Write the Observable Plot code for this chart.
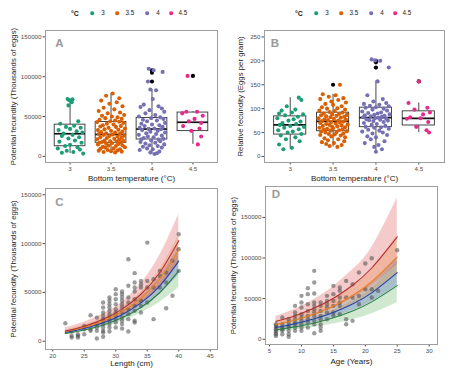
<!DOCTYPE html>
<html>
<head>
<meta charset="utf-8">
<script src="https://cdn.jsdelivr.net/npm/d3@7"></script>
<script src="https://cdn.jsdelivr.net/npm/@observablehq/plot@0.6"></script>
<style>
  html, body { margin: 0; padding: 0; background: #fff; }
  #fig { position: relative; width: 450px; height: 374px; overflow: hidden; background: #fff;
         font-family: "Liberation Sans", Arial, Helvetica, sans-serif; color: #222; }
  #fig svg { position: absolute; }
  .lg { position: absolute; transform: translate(-50%, -50%); white-space: nowrap; line-height: 1; }
  .lg-title { font-size: 7px; font-weight: bold; color: #222; }
  .lg-label { font-size: 6.3px; color: #222; }
  .lg-dot { width: 3.6px; height: 3.6px; border-radius: 50%; }
</style>
</head>
<body>
<div id="fig"></div>
<script>
// ---------- shared categories ----------
const temps = [3, 3.5, 4, 4.5];
const tempLabels = ["3", "3.5", "4", "4.5"];
const tempColors = ["#1b9e77", "#d95f02", "#7570b3", "#e7298a"];

// ---------- A: potential fecundity by bottom temperature, [jitter offset, eggs] ----------
const potA_3 = [[-0.03,72000],[0.03,71500],[-0.01,70500],[0.02,68000],[-0.02,64000],[0.1,44000],[-0.12,41000],[0.05,38500],[-0.05,37000],[0.13,36000],[0.0,34500],[-0.14,33000],[0.08,31500],[0.15,30000],[-0.08,28500],[0.03,27000],[-0.1,25500],[0.11,24000],[-0.02,22500],[0.06,20000],[-0.13,18500],[0.14,17000],[0.0,14500],[-0.06,13000],[0.09,11500],[-0.15,10000],[0.12,8500],[-0.04,7000],[0.04,5500],[-0.1,4500],[0.16,3500]];
const potA_35 = [[0.02,79000],[-0.06,76000],[0.1,73000],[-0.12,70000],[0.07,68000],[-0.02,66000],[0.14,63000],[-0.09,61000],[0.04,59000],[-0.15,57000],[0.11,55000],[-0.04,54000],[0.16,52000],[-0.11,51000],[0.01,50000],[0.08,49000],[-0.07,48000],[0.13,47000],[-0.14,46000],[0.05,45000],[-0.01,44000],[0.1,43500],[-0.17,43000],[0.15,42000],[-0.05,41000],[0.03,40000],[-0.1,39000],[0.12,38000],[-0.13,37500],[0.06,37000],[-0.03,36000],[0.17,35000],[-0.08,34000],[0.09,33500],[-0.16,33000],[0.0,32000],[0.14,31000],[-0.12,30500],[0.05,30000],[-0.06,29000],[0.11,28500],[-0.15,28000],[0.02,27500],[-0.09,27000],[0.16,26000],[-0.02,25500],[0.08,25000],[-0.13,24000],[0.13,23500],[-0.05,23000],[0.04,22000],[-0.17,21500],[0.1,21000],[-0.08,20000],[0.15,19500],[-0.01,19000],[0.07,18500],[-0.11,18000],[0.12,17500],[-0.14,17000],[0.01,16500],[-0.06,16000],[0.09,15500],[-0.16,15000],[0.14,14000],[-0.03,13500],[0.06,13000],[-0.1,12000],[0.17,11500],[-0.07,11000],[0.03,10000],[-0.13,9500],[0.11,9000],[-0.04,8000],[0.08,7500],[-0.15,7000],[0.0,6500],[0.13,6000],[-0.09,5500],[0.05,5000]];
const potA_4 = [[-0.04,110000],[0.02,108000],[0.13,106000],[-0.05,94000],[-0.02,84000],[0.05,83000],[0.01,72000],[-0.1,65000],[0.08,63000],[-0.14,62000],[0.12,60000],[-0.03,58000],[0.15,56000],[-0.08,54000],[0.04,52000],[-0.16,50000],[0.1,49000],[-0.01,48000],[0.14,47000],[-0.11,46000],[0.06,45000],[-0.06,44000],[0.16,42000],[-0.13,41000],[0.0,40000],[0.09,39000],[-0.09,38000],[0.13,37000],[-0.15,36000],[0.03,35000],[-0.04,34500],[0.11,34000],[-0.12,33000],[0.07,32000],[-0.02,31000],[0.16,30000],[-0.07,29000],[0.05,28000],[-0.16,27000],[0.12,26000],[-0.05,25000],[0.02,24000],[-0.1,23000],[0.14,22000],[-0.13,21500],[0.08,21000],[-0.01,20000],[0.1,19000],[-0.14,18000],[0.04,17000],[-0.08,16000],[0.15,15000],[-0.03,14000],[0.07,13000],[-0.11,12000],[0.12,11000],[-0.06,10000],[0.01,9000],[-0.15,8000],[0.09,6000],[-0.02,5000],[0.06,4000],[0.03,3000]];
const potA_45 = [[-0.065,101000],[-0.08,56000],[0.05,56000],[-0.13,54000],[0.12,51000],[0.02,47000],[-0.05,44000],[0.1,42000],[-0.12,38000],[0.08,35000],[-0.02,32000],[0.1,25000],[0.06,15000]];
// A box summaries per temperature (whisker low, Q1, median, Q3, whisker high)
const boxA_lo  = [3500, 5000, 3000, 15000];
const boxA_q1  = [12700, 17000, 21200, 31700];
const boxA_med = [28400, 27500, 34300, 42800];
const boxA_q3  = [39800, 43100, 48200, 55000];
const boxA_hi  = [72000, 79000, 84000, 56000];
const outA_t = [4, 4, 4, 4.5];
const outA_v = [108000, 105000, 94000, 101000];

// ---------- B: relative fecundity (eggs per gram), [jitter offset, eggs/g] ----------
const relB_3 = [[0.1,123],[0.13,118],[-0.04,105],[0.06,98],[-0.1,96],[0.02,92],[-0.13,90],[0.15,88],[-0.06,86],[0.09,83],[-0.15,80],[0.04,78],[-0.02,75],[0.12,73],[-0.09,70],[0.07,68],[-0.12,66],[0.0,64],[0.16,62],[-0.07,60],[0.1,57],[-0.14,55],[0.03,52],[-0.03,50],[0.13,47],[-0.11,44],[0.06,40],[-0.05,36],[0.11,32],[-0.13,25],[0.02,18],[-0.08,15]];
const relB_35 = [[0.08,150],[-0.12,130],[0.03,128],[-0.05,125],[0.12,122],[-0.15,120],[0.06,118],[-0.02,115],[0.15,113],[-0.09,110],[0.0,108],[0.1,105],[-0.13,103],[0.05,101],[-0.07,100],[0.14,98],[-0.16,96],[0.02,95],[-0.04,93],[0.11,92],[-0.11,90],[0.07,89],[-0.01,88],[0.16,87],[-0.14,86],[0.04,85],[-0.08,84],[0.13,83],[-0.03,82],[0.09,81],[-0.17,80],[0.01,79],[-0.1,78],[0.15,77],[-0.06,76],[0.06,75],[-0.13,74],[0.12,73],[-0.02,72],[0.08,71],[-0.15,70],[0.03,69],[-0.08,68],[0.17,67],[-0.04,66],[0.1,65],[-0.12,64],[0.05,63],[-0.01,62],[0.14,61],[-0.16,60],[0.0,59],[-0.07,58],[0.11,57],[-0.11,56],[0.07,55],[-0.03,54],[0.16,53],[-0.14,52],[0.04,51],[-0.09,50],[0.12,48],[-0.05,47],[0.02,46],[-0.15,45],[0.09,44],[-0.02,42],[0.14,40],[-0.1,38],[0.06,36],[-0.06,34],[0.13,32],[-0.13,30],[0.01,28],[-0.08,26],[0.1,24],[-0.04,22],[0.05,20]];
const relB_4 = [[-0.05,203],[-0.01,201],[0.05,200],[0.15,186],[0.02,157],[-0.1,128],[0.08,120],[-0.03,115],[0.12,112],[-0.14,110],[0.04,108],[-0.07,106],[0.15,105],[0.0,103],[-0.12,102],[0.09,100],[-0.04,98],[0.13,96],[-0.16,94],[0.06,92],[-0.09,91],[0.02,90],[0.16,88],[-0.02,87],[-0.13,86],[0.1,85],[-0.06,84],[0.07,83],[-0.15,82],[0.03,81],[-0.01,80],[0.12,79],[-0.11,78],[0.05,77],[-0.08,76],[0.14,75],[-0.03,74],[0.09,72],[-0.14,70],[0.01,68],[-0.05,66],[0.11,64],[-0.12,62],[0.06,61],[-0.02,60],[0.15,58],[-0.09,56],[0.04,54],[-0.16,52],[0.08,50],[-0.04,48],[0.13,45],[-0.1,42],[0.0,40],[-0.06,36],[0.1,32],[-0.13,28],[0.03,24],[-0.02,20],[0.07,15],[0.0,10]];
const relB_45 = [[0.0,157],[-0.12,112],[0.1,102],[-0.05,98],[0.13,92],[0.05,88],[-0.1,82],[0.02,80],[-0.14,79],[0.11,72],[-0.03,62],[0.09,55],[0.12,50]];
const boxB_lo  = [15, 20, 10, 50];
const boxB_q1  = [45.8, 52.8, 61.3, 64.8];
const boxB_med = [66.3, 73.3, 81.1, 79.6];
const boxB_q3  = [83.9, 91.6, 102, 94.4];
const boxB_hi  = [123, 130, 158, 112];
const outB_t = [3.5, 4, 4, 4, 4.5];
const outB_v = [150, 200, 197, 186, 157];

// ---------- C: potential fecundity vs length ----------
const lengthC = [22,23,23,23,24,24,24,25,25,25,26,26,26,27,27,27,27,27,
  28,28,28,28,28,28,28,28,28,28,28, 29,29,29,29,29,29,29,29,29,29,29,
  30,30,30,30,30,30,30,30,30,30, 31,31,31,31,31,31,31,31,31,31,31,
  32,32,32,32,32,32,32,32, 33,33,33,33,33,33,33,33,33, 34,34,34,34,34,34,
  35,35,35,35, 36,36,36, 37,37,37, 38,38,38, 39,39, 40,40,40];
const fecC = [18400,5500,3800,9800,7200,5500,3800,15700,7200,12300,26600,10600,12300,24200,17500,14000,2700,10600,
  39600,34500,29400,26000,22600,20900,17500,14000,10600,8900,4500, 44800,41400,37900,34500,31100,27700,24200,20900,17500,14000,9900,
  53300,48200,43000,37900,32800,29400,26000,22600,19100,14000, 50900,48200,44800,41400,37900,34500,29400,24200,20900,17500,13000,
  84000,56800,44800,39600,32800,27700,22600,9900, 69700,60100,55000,50900,43000,36200,31100,20900,19100, 61800,58400,55000,41400,36200,29400,
  101000,61800,55000,39600, 63600,55000,22600, 72100,67000,55000, 70400,60100,33800, 82400,46500, 109600,94300,72100];

// ---------- D: potential fecundity vs age ----------
const ageD = [6,6,6,6,6,6,6,6, 7,7,7,7,7,7, 8,8,8,8,8,8,8, 9,9,9,9,9,9,9,9,
  10,10,10,10,10,10,10,10,10, 11,11,11,11,11,11,11,11, 12,12,12,12,12,12,12,12,12,12,12,
  13,13,13,13,13,13,13,13, 14,14,14,14,14,14, 15,15,15,15,15,15, 16,16,16,16,16,16,
  17,17,17,17, 18,18,18, 19,19,19, 20,20, 21,21,21, 22, 25];
const fecD = [18500,16500,14400,12300,10300,8200,6200,4100, 26700,18500,14400,12300,10300,6200,
  24600,20500,16500,14400,10300,6200,2900, 41100,32900,28800,24600,20500,18500,14400,10300,
  53400,45200,39000,30800,26700,22600,18500,14400,10300, 62900,55500,43100,34900,28800,24600,20500,14400,
  84200,69800,56300,45200,41100,37000,32900,28800,22600,18500,7400,
  45200,41100,34900,28800,24600,18500,14400,10300, 53400,47200,43100,39000,32900,24600,
  65700,55500,47200,41100,32900,28800, 63700,59600,51300,45200,41100,30800,
  71800,51300,24600,18500, 67700,51300,22600, 82100,53400,43100, 93200,61600, 99700,61600,51300, 59600, 109600];

// ---------- fitted curves with confidence ribbons (series: 3, 3.5, 4, 4.5 °C) ----------
const fitColors    = ["#2b7c45", "#2b3ea6", "#e8801f", "#b22f2f"];
const ribbonColors = ["#5fb35f", "#4a5fc2", "#f09a3e", "#d9534f"];
const lenGrid = [22, 25, 28, 31, 34, 37, 40];
const fitC = [
  [8000, 11500, 16600, 24000, 34600, 49900, 72000],
  [9000, 13000, 18800, 27200, 39300, 56700, 82000],
  [9800, 14300, 20800, 30200, 44000, 64000, 93500],
  [10500, 15400, 22500, 32900, 48100, 70400, 103000]];
const lowC = [
  [6600, 9600, 14000, 20000, 29000, 40000, 55000],
  [7800, 11300, 16400, 23500, 33500, 48000, 68000],
  [8500, 12500, 18000, 26500, 38500, 55500, 80000],
  [8500, 12500, 18500, 27000, 39000, 56000, 80000]];
const highC = [
  [9600, 13700, 19700, 28500, 41500, 60500, 90000],
  [10300, 14900, 21600, 31500, 46000, 67000, 97000],
  [11300, 16500, 24000, 34500, 50000, 73500, 108000],
  [13500, 19500, 28000, 40000, 59000, 88000, 130000]];
const ageGrid = [6, 9, 12, 15, 18, 21, 25];
const fitD = [
  [11500, 15200, 20000, 26400, 34800, 46000, 66000],
  [14500, 19100, 25100, 33000, 43400, 57100, 82000],
  [18000, 23700, 31100, 40900, 53800, 70800, 101000],
  [22000, 29000, 38300, 50400, 66500, 87700, 126000]];
const lowD = [
  [8500, 11000, 14300, 18600, 24100, 31300, 45000],
  [12000, 15700, 20600, 27000, 35300, 46300, 66000],
  [15000, 19600, 25500, 33300, 43500, 56800, 80000],
  [17000, 22300, 29200, 38300, 50100, 65700, 92000]];
const highD = [
  [15000, 20000, 26600, 35500, 47300, 63000, 96000],
  [17500, 23100, 30400, 40000, 52800, 69600, 102000],
  [21500, 28400, 37400, 49400, 65200, 86000, 128000],
  [28000, 37000, 49000, 65000, 85500, 113000, 174000]];

// ---------- helpers ----------
const fig = document.getElementById("fig");
const FONT = "'Liberation Sans', Arial, Helvetica, sans-serif";
const TICK = "#4d4d4d";
const intFmt = d3.format("d");

function place(svg, left, top) {
  svg.style.left = left + "px";
  svg.style.top = top + "px";
  fig.appendChild(svg);
}

function axes(xTicks, yTicks) {
  return [
    Plot.axisX({ticks: xTicks, tickFormat: d => String(d), tickSize: 2.5, tickPadding: 1.5,
                fontSize: 6.2, color: TICK, label: null}),
    Plot.axisY({ticks: yTicks, tickFormat: intFmt, tickSize: 2.5, tickPadding: 1.5,
                fontSize: 6.2, color: TICK, label: null}),
    Plot.frame({stroke: "#9e9e9e", strokeWidth: 1})
  ];
}

function titles(letter, letterDx, letterDy, xTitle, xDy, yTitle, yDx) {
  return [
    Plot.text([letter], {frameAnchor: "top-left", text: d => d, dx: letterDx, dy: letterDy,
                         textAnchor: "middle", lineAnchor: "middle", fontSize: 11.5,
                         fontWeight: "bold", fill: "#9a9a9a"}),
    Plot.text([xTitle], {frameAnchor: "bottom", text: d => d, dy: xDy, textAnchor: "middle",
                         lineAnchor: "middle", fontSize: 8, fill: "#222"}),
    Plot.text([yTitle], {frameAnchor: "left", text: d => d, dx: yDx, rotate: -90,
                         textAnchor: "middle", lineAnchor: "middle", fontSize: 7.8, fill: "#222"})
  ];
}

function boxMarks(lo, q1, med, q3, hi, outT, outV) {
  const half = 0.1875;
  const outs = outT.map((t, i) => ({t, v: outV[i]}));
  return [
    Plot.ruleX(temps, {x: d => d, y1: (d, i) => lo[i], y2: (d, i) => q1[i], stroke: "#333", strokeWidth: 0.9}),
    Plot.ruleX(temps, {x: d => d, y1: (d, i) => q3[i], y2: (d, i) => hi[i], stroke: "#333", strokeWidth: 0.9}),
    Plot.rect(temps, {x1: d => d - half, x2: d => d + half, y1: (d, i) => q1[i], y2: (d, i) => q3[i],
                      fill: "white", stroke: "#333", strokeWidth: 0.9}),
    Plot.ruleY(temps, {y: (d, i) => med[i], x1: d => d - half, x2: d => d + half, stroke: "#111", strokeWidth: 1.7}),
    Plot.dot(outs, {x: "t", y: "v", r: 2.1, fill: "black", stroke: null})
  ];
}

function jitterRows(groups) {
  return groups.flatMap((pts, k) => pts.map(([dx, v]) => ({t: temps[k], x: temps[k] + dx, v})));
}

function fitRows(grid, fit, low, high) {
  return fit.flatMap((series, k) => series.map((y, i) => ({s: k, x: grid[i], y, lo: low[k][i], hi: high[k][i]})));
}

function fitMarks(rows) {
  const marks = [];
  for (let k = 0; k < 4; k++) {
    marks.push(Plot.areaY(rows.filter(r => r.s === k), {x: "x", y1: "lo", y2: "hi", fill: ribbonColors[k],
                                                         fillOpacity: 0.3, curve: "natural"}));
  }
  return marks;
}
function lineMarks(rows) {
  const marks = [];
  for (let k = 0; k < 4; k++) {
    marks.push(Plot.lineY(rows.filter(r => r.s === k), {x: "x", y: "y", stroke: fitColors[k],
                                                         strokeWidth: 1.1, curve: "natural"}));
  }
  return marks;
}

const baseStyle = {fontFamily: FONT, fontSize: "6px", background: "transparent", color: "#222", overflow: "visible"};

// ---------- Panel A ----------
place(Plot.plot({
  width: 225, height: 187, marginLeft: 45, marginRight: 8, marginTop: 30, marginBottom: 25,
  style: baseStyle,
  x: {type: "linear", domain: [2.7, 4.8]},
  y: {domain: [-7700, 158000]},
  color: {type: "ordinal", domain: temps, range: tempColors},
  marks: [
    ...boxMarks(boxA_lo, boxA_q1, boxA_med, boxA_q3, boxA_hi, outA_t, outA_v),
    Plot.dot(jitterRows([potA_3, potA_35, potA_4, potA_45]), {x: "x", y: "v", fill: "t", r: 2.05, stroke: null}),
    ...axes(temps, [0, 50000, 100000, 150000]),
    ...titles("A", 14, 12.5, "Bottom temperature (°C)", 16, "Potential fecundity (Thousands of eggs)", -32)
  ]
}), 0, 0);

// ---------- Panel B ----------
place(Plot.plot({
  width: 225, height: 187, marginLeft: 39, marginRight: 6, marginTop: 30, marginBottom: 25,
  style: baseStyle,
  x: {type: "linear", domain: [2.7, 4.8]},
  y: {domain: [-12.6, 263.5]},
  color: {type: "ordinal", domain: temps, range: tempColors},
  marks: [
    ...boxMarks(boxB_lo, boxB_q1, boxB_med, boxB_q3, boxB_hi, outB_t, outB_v),
    Plot.dot(jitterRows([relB_3, relB_35, relB_4, relB_45]), {x: "x", y: "v", fill: "t", r: 2.05, stroke: null}),
    ...axes(temps, [0, 50, 100, 150, 200, 250]),
    ...titles("B", 10.5, 12.5, "Bottom temperature (°C)", 16, "Relative fecundity (Eggs per gram)", -24)
  ]
}), 225, 0);

// ---------- Panel C ----------
const rowsC = fitRows(lenGrid, fitC, lowC, highC);
place(Plot.plot({
  width: 225, height: 194, marginLeft: 45, marginRight: 8, marginTop: 8, marginBottom: 25,
  style: baseStyle,
  x: {domain: [18.85, 46.15]},
  y: {domain: [-8500, 156450]},
  marks: [
    ...fitMarks(rowsC),
    Plot.dot(lengthC.map((x, i) => ({x, y: fecC[i]})), {x: "x", y: "y", r: 2.2, fill: "#4a4a4a", fillOpacity: 0.55, stroke: null}),
    ...lineMarks(rowsC),
    ...axes([20, 25, 30, 35, 40, 45], [0, 50000, 100000, 150000]),
    ...titles("C", 14, 14, "Length (cm)", 14, "Potential fecundity (Thousands of eggs)", -32)
  ]
}), 0, 180);

// ---------- Panel D ----------
const rowsD = fitRows(ageGrid, fitD, lowD, highD);
place(Plot.plot({
  width: 225, height: 194, marginLeft: 40, marginRight: 13, marginTop: 6, marginBottom: 30,
  style: baseStyle,
  x: {domain: [4.37, 31.3]},
  y: {domain: [-6500, 188050]},
  marks: [
    ...fitMarks(rowsD),
    Plot.dot(ageD.map((x, i) => ({x, y: fecD[i]})), {x: "x", y: "y", r: 2.2, fill: "#4a4a4a", fillOpacity: 0.55, stroke: null}),
    ...lineMarks(rowsD),
    ...axes([5, 10, 15, 20, 25, 30], [0, 50000, 100000, 150000]),
    ...titles("D", 10.5, 8.3, "Age (Years)", 17.3, "Potential fecundity (Thousands of eggs)", -32)
  ]
}), 225, 180);

// ---------- temperature legends above A and B ----------
function legend(x0, y) {
  const add = (cls, cx, text, color) => {
    const el = document.createElement("div");
    el.className = "lg " + cls;
    el.style.left = cx + "px";
    el.style.top = y + "px";
    if (text != null) el.textContent = text;
    if (color) el.style.background = color;
    fig.appendChild(el);
  };
  add("lg-title", x0, "°C");
  const dotOff = [17, 42, 72, 96], labOff = [28, 55, 83, 108];
  temps.forEach((t, i) => {
    add("lg-dot", x0 + dotOff[i], null, tempColors[i]);
    add("lg-label", x0 + labOff[i], tempLabels[i]);
  });
}
legend(75, 13);
legend(299, 13);
</script>
</body>
</html>
